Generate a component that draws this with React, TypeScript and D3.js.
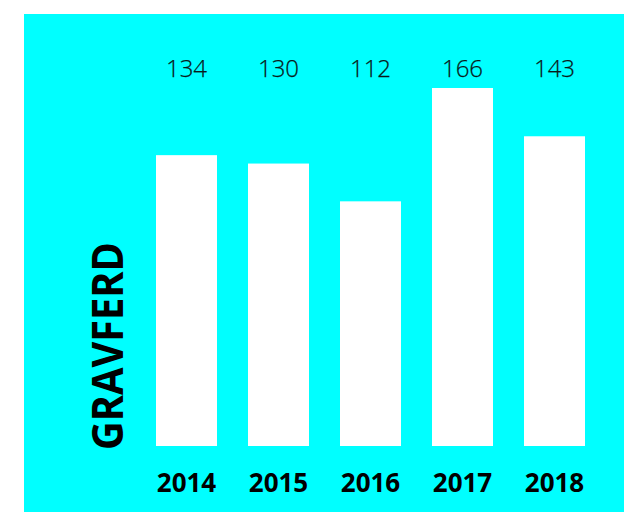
import React from "react";
import * as d3 from "d3";

const years = ["2014", "2015", "2016", "2017", "2018"];
const values = [134, 130, 112, 166, 143];
const axisTitle = "GRAVFERD";

const W = 624;
const H = 512;

export default function App() {
  const x = d3
    .scaleBand<string>()
    .domain(years)
    .range([140.5, 600.5])
    .paddingInner(0.337)
    .paddingOuter(0.1685);
  const y = d3.scaleLinear().domain([0, 170]).range([436.4, 79.6]);
  const baseline = 446;

  return (
    <svg
      width={W}
      height={H}
      style={{ position: "absolute", left: 0, top: 0, display: "block" }}
    >
      <rect x={24} y={14} width={600} height={498} fill="#00ffff" />
      {years.map((yr, i) => {
        const bx = x(yr)!;
        const bw = x.bandwidth();
        const top = y(values[i]);
        return (
          <g key={yr}>
            <rect x={bx} y={top} width={bw} height={baseline - top} fill="#ffffff" />
            <text
              x={bx + bw / 2}
              y={77.3}
              textAnchor="middle"
              fontFamily="'Open Sans', sans-serif"
              fontWeight={300}
              fontSize={24}
              fill="#0a1a1a"
              stroke="#0a1a1a"
              strokeWidth={0.25}
            >
              {values[i]}
            </text>
            <text
              x={bx + bw / 2}
              y={491.7}
              textAnchor="middle"
              fontFamily="'Open Sans', sans-serif"
              fontWeight={700}
              fontSize={26}
              fill="#000000"
            >
              {yr}
            </text>
          </g>
        );
      })}
      <text
        transform="translate(122.5,450) rotate(-90)"
        textAnchor="start"
        fontFamily="'Open Sans', sans-serif"
        fontWeight={700}
        fontSize={43}
        textLength={208}
        lengthAdjust="spacingAndGlyphs"
        fill="#000000"
      >
        {axisTitle}
      </text>
    </svg>
  );
}
